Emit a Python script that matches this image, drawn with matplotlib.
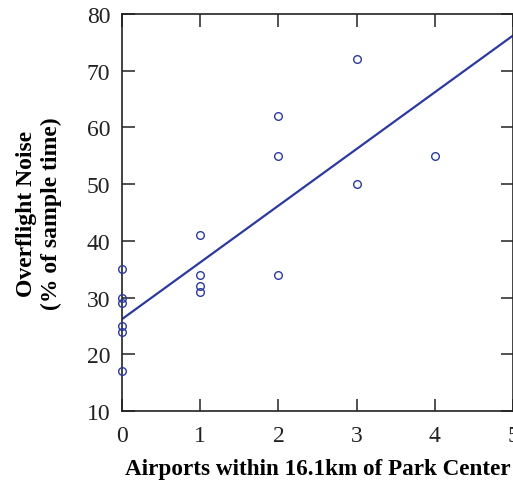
import numpy as np
import matplotlib.pyplot as plt

plt.rcParams['font.family'] = 'Liberation Serif'

# airports within 16.1 km vs overflight noise (% of sample time)
airports = [0, 0, 0, 0, 0, 0, 1, 1, 1, 1, 2, 2, 2, 3, 3, 4]
noise = [35, 30, 29, 25, 24, 17, 41, 34, 32, 31, 62, 55, 34, 72, 50, 55]

# fitted line
intercept = 26.2
slope = 10.0

col = '#2b3a9c'

fig = plt.figure(figsize=(5.13, 4.85), dpi=100)
ax = fig.add_axes([0.2378, 0.1505, 0.7622, 0.8186])

ax.plot(airports, noise, 'o', mfc='none', mec=col, ms=5.5, mew=1.0, clip_on=False, zorder=3)
xx = np.array([0, 5])
ax.plot(xx, intercept + slope * xx, color=col, lw=1.6)

ax.set_xlim(0, 5)
ax.set_ylim(10, 80)
ax.set_xticks([0, 1, 2, 3, 4, 5])
ax.set_yticks([10, 20, 30, 40, 50, 60, 70, 80])
ax.tick_params(direction='in', length=9, width=1.1, top=True, right=True,
               labelsize=17, colors='#222222')
ax.tick_params(axis='x', pad=10)
ax.tick_params(axis='y', pad=8.5)
for s in ax.spines.values():
    s.set_linewidth(1.2)
    s.set_color('#222222')

ax.set_xlabel('Airports within 16.1km of Park Center', fontsize=16.7, fontweight='bold', labelpad=9)
ax.set_ylabel('Overflight Noise\n(% of sample time)', fontsize=17, fontweight='bold', labelpad=18)

plt.savefig('out.png', dpi=100)
